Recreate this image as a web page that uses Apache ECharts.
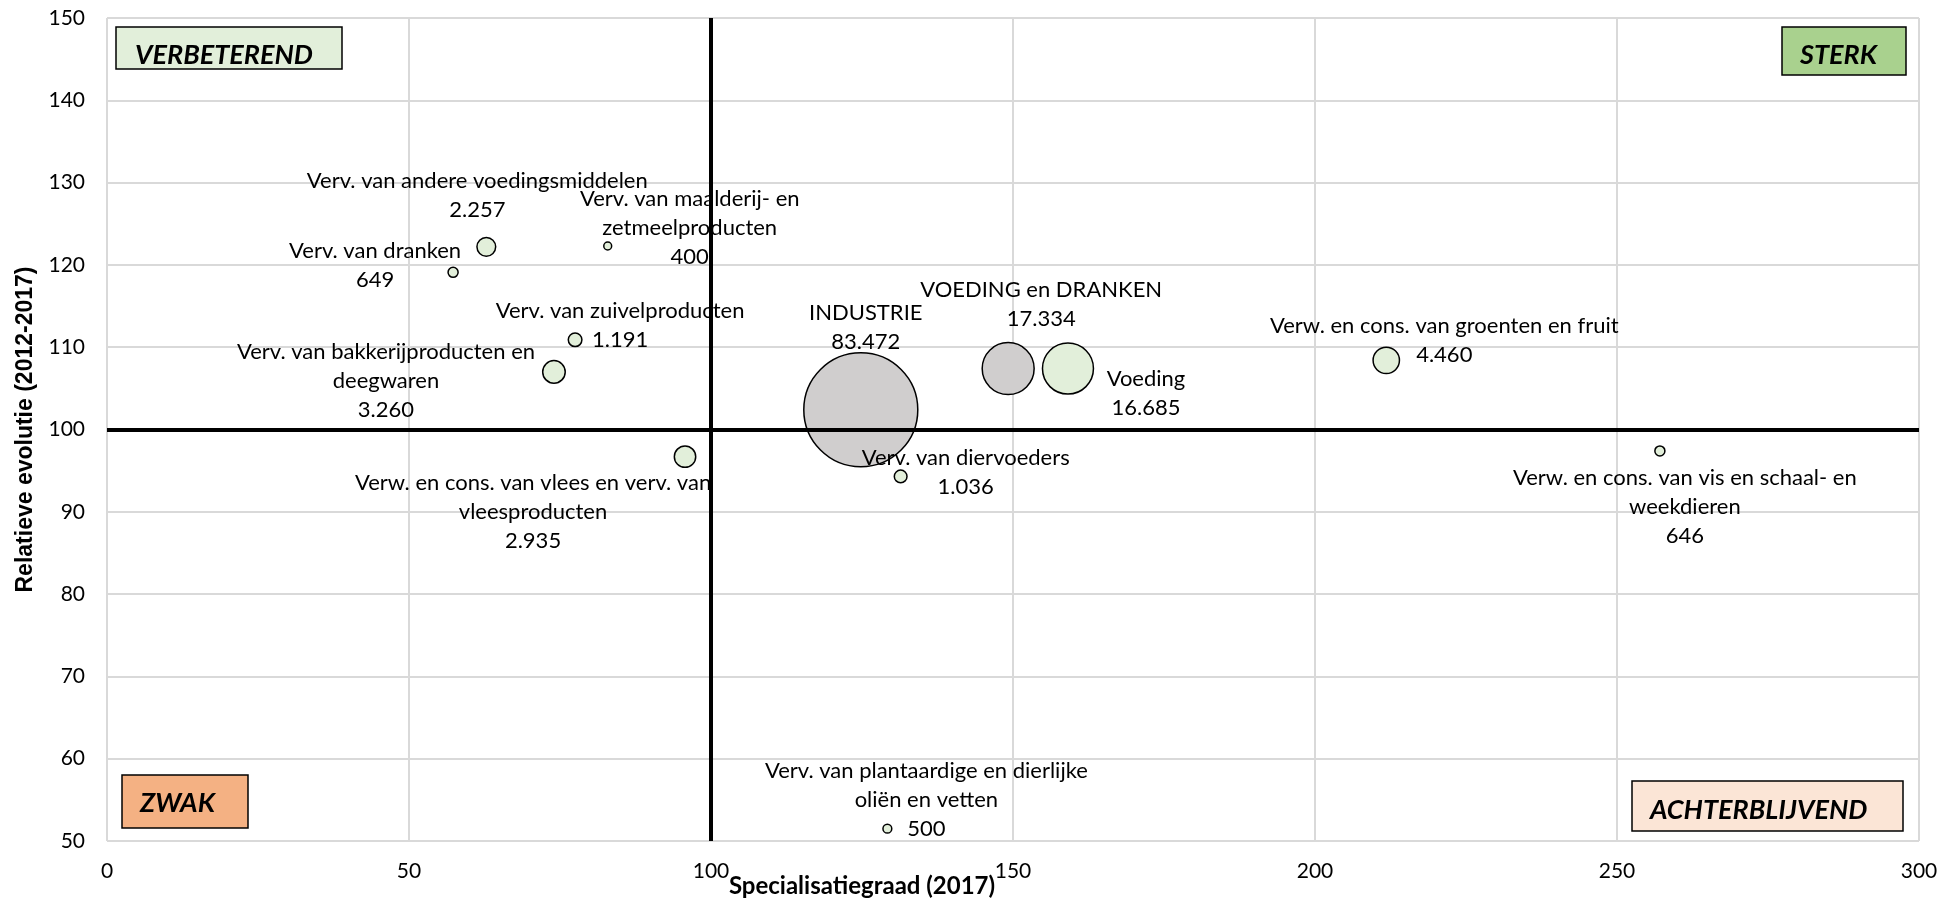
<!DOCTYPE html>
<html>
<head>
<meta charset="utf-8">
<script src="https://cdn.jsdelivr.net/npm/echarts@6/dist/echarts.min.js"></script>
<style>
  html, body { margin: 0; padding: 0; background: #fff; }
  #chart { width: 1957px; height: 903px; }
</style>
</head>
<body>
<div id="chart"></div>
<script>
// ---- Data ----
const names = [
  'Verv. van andere voedingsmiddelen',
  'Verv. van dranken',
  'Verv. van maalderij- en zetmeelproducten',
  'Verv. van zuivelproducten',
  'Verv. van bakkerijproducten en deegwaren',
  'Verw. en cons. van vlees en verv. van vleesproducten',
  'INDUSTRIE',
  'VOEDING en DRANKEN',
  'Voeding',
  'Verv. van diervoeders',
  'Verv. van plantaardige en dierlijke oliën en vetten',
  'Verw. en cons. van groenten en fruit',
  'Verw. en cons. van vis en schaal- en weekdieren'
];
const specialisatiegraad = [62.8, 57.3, 82.9, 77.5, 74.0, 95.7, 124.8, 149.2, 159.1, 131.4, 129.2, 211.8, 257.1];
const relatieveEvolutie = [122.2, 119.1, 122.3, 110.9, 107.0, 96.7, 102.4, 107.4, 107.4, 94.3, 51.5, 108.4, 97.4];
const werkgelegenheid = [2257, 649, 400, 1191, 3260, 2935, 83472, 17334, 16685, 1036, 500, 4460, 646];
const totals = ['INDUSTRIE', 'VOEDING en DRANKEN'];

const xTicks = [0, 50, 100, 150, 200, 250, 300];
const yTicks = [50, 60, 70, 80, 90, 100, 110, 120, 130, 140, 150];
const quadrantX = 100;
const quadrantY = 100;

// ---- Layout (label placement as in the reference) ----
const labelBreaks = {
  'Verv. van maalderij- en zetmeelproducten': 'Verv. van maalderij- en\nzetmeelproducten',
  'Verv. van bakkerijproducten en deegwaren': 'Verv. van bakkerijproducten en\ndeegwaren',
  'Verw. en cons. van vlees en verv. van vleesproducten': 'Verw. en cons. van vlees en verv. van\nvleesproducten',
  'Verv. van plantaardige en dierlijke oliën en vetten': 'Verv. van plantaardige en dierlijke\noliën en vetten',
  'Verw. en cons. van vis en schaal- en weekdieren': 'Verw. en cons. van vis en schaal- en\nweekdieren'
};
const labelOffsets = [
  [-9, -51], [-78, -7], [82, -18], [45, -14], [-168, 9], [-152, 55], [5, -82],
  [33, -64], [78, 25], [65, -4], [39, -29], [58, -20], [25, 56]
];

function fmt(v) { return String(v).replace(/\B(?=(\d{3})+(?!\d))/g, '.'); }

const FONT = 'Lato';
const seriesData = names.map((n, i) => ({
  name: n,
  value: [specialisatiegraad[i], relatieveEvolutie[i], werkgelegenheid[i]],
  itemStyle: { color: totals.includes(n) ? '#D0CECE' : '#E2EFDA' },
  label: { offset: labelOffsets[i] }
}));

const chart = echarts.init(document.getElementById('chart'), null, { renderer: 'canvas' });

function box(x, y, w, h, fill, text, tx, ty) {
  return [
    { type: 'rect', z: 100, shape: { x: x, y: y, width: w, height: h },
      style: { fill: fill, stroke: '#000', lineWidth: 1.5 } },
    { type: 'text', z: 101, x: tx, y: ty,
      style: { text: text, fill: '#000', font: 'italic bold 27px ' + FONT, textVerticalAlign: 'middle', textAlign: 'left' } }
  ];
}

chart.setOption({
  animation: false,
  backgroundColor: '#fff',
  grid: { left: 107, right: 38, top: 18, bottom: 62, containLabel: false, outerBoundsMode: 'none' },
  xAxis: {
    type: 'value', min: xTicks[0], max: xTicks[xTicks.length - 1], interval: xTicks[1] - xTicks[0],
    axisLine: { show: false }, axisTick: { show: false },
    splitLine: { show: true, lineStyle: { color: '#D9D9D9', width: 2 } },
    axisLabel: { fontFamily: FONT, fontSize: 21, color: '#000', margin: 20 },
    name: 'Specialisatiegraad (2017)', nameLocation: 'middle', nameGap: 33, nameMoveOverlap: false,
    nameTextStyle: { fontFamily: FONT, fontSize: 24, fontWeight: 'bold', color: '#000', padding: [0, 302, 0, 0] }
  },
  yAxis: {
    type: 'value', min: yTicks[0], max: yTicks[yTicks.length - 1], interval: yTicks[1] - yTicks[0],
    axisLine: { show: false }, axisTick: { show: false },
    splitLine: { show: true, lineStyle: { color: '#D9D9D9', width: 2 } },
    axisLabel: { fontFamily: FONT, fontSize: 21, color: '#000', margin: 22 },
    name: 'Relatieve evolutie (2012-2017)', nameLocation: 'middle', nameGap: 70, nameRotate: 90, nameMoveOverlap: false,
    nameTextStyle: { fontFamily: 'Liberation Sans', fontSize: 23, fontWeight: 'bold', color: '#000' }
  },
  series: [
    {
      type: 'scatter', z: 2,
      data: seriesData,
      symbolSize: function (val) { return 0.3946 * Math.sqrt(val[2]); },
      itemStyle: { borderColor: '#000', borderWidth: 1.5, opacity: 1 },
      label: {
        show: true, position: 'inside', align: 'center', verticalAlign: 'middle',
        fontFamily: FONT, fontSize: 22, color: '#000', lineHeight: 29,
        formatter: function (p) { return (labelBreaks[p.name] || p.name) + '\n' + fmt(p.value[2]); }
      },
      emphasis: { disabled: true }
    },
    {
      type: 'scatter', z: 5, data: [],
      markLine: {
        silent: true, symbol: 'none', animation: false,
        label: { show: false },
        lineStyle: { color: '#000', width: 4, type: 'solid' },
        data: [{ xAxis: quadrantX }, { yAxis: quadrantY }]
      }
    }
  ],
  graphic: [].concat(
    box(116, 27, 226, 42, '#E2EFDA', 'VERBETEREND', 135, 55),
    box(1782, 27, 124, 48, '#A9D18E', 'STERK', 1800, 55),
    box(122, 775, 126, 53, '#F4B183', 'ZWAK', 140, 803),
    box(1632, 781, 271, 50, '#FBE5D6', 'ACHTERBLIJVEND', 1650, 810)
  )
});
</script>
</body>
</html>
